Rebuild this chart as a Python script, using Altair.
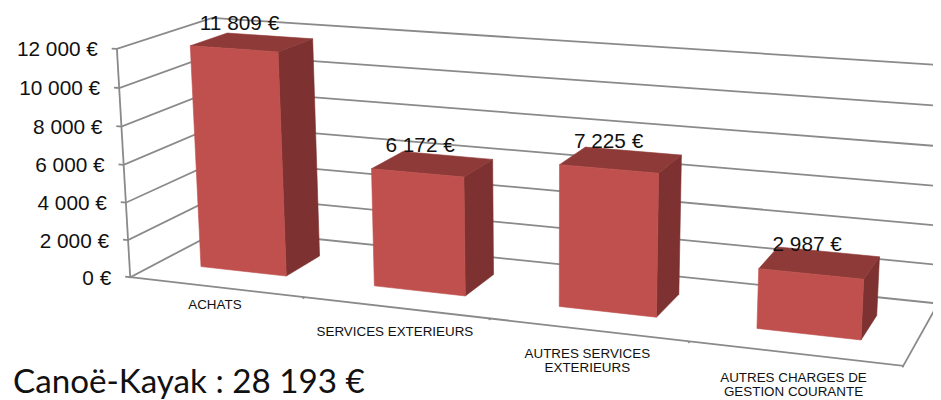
import numpy as np
import pandas as pd
import altair as alt

categories = [["ACHATS"], ["SERVICES EXTERIEURS"], ["AUTRES SERVICES", "EXTERIEURS"],
              ["AUTRES CHARGES DE", "GESTION COURANTE"]]
values = [11809, 6172, 7225, 2987]
value_labels = ["11 809 €", "6 172 €", "7 225 €", "2 987 €"]
axis_ticks = [0, 2000, 4000, 6000, 8000, 10000, 12000]
axis_labels = ["0 €", "2 000 €", "4 000 €", "6 000 €", "8 000 €", "10 000 €", "12 000 €"]
title = "Canoë-Kayak : 28 193 €"

FRONT, TOP, SIDE, GREY = "#C0504D", "#8E3A38", "#7D3130", "#8A8A8A"
VMAX = 12000

# Perspective camera of the 3-D box: (category position, depth, value share) -> page pixel
box = [((0, 0, 0), (130, 277)), ((0, 0, 1), (117, 49)), ((0, 1, 0), (222, 230)), ((0, 1, 1), (212, 18)),
       ((4, 0, 0), (903, 367)), ((4, 1, 0), (938, 302)), ((4, 1, 1), (951, 66)),
       ((0, 0, .5), (124, 164)), ((4, 1, .5), (945, 187))]
eqs = []
for (X, Y, Z), (px, py) in box:
    px, py = px / 1000, py / 1000
    eqs.append([X, Y, Z, 1, 0, 0, 0, 0, -px * X, -px * Y, -px * Z, -px])
    eqs.append([0, 0, 0, 0, X, Y, Z, 1, -py * X, -py * Y, -py * Z, -py])
P = np.linalg.svd(np.array(eqs, float))[2][-1].reshape(3, 4)


def proj(u, w, val):
    h = P @ np.array([u, w, val / VMAX, 1.0])
    return [float(h[0] / h[2] * 1000), float(h[1] / h[2] * 1000)]


# ---- polygons
features = []


def poly(pts, color):
    ring = [proj(*p) for p in pts]
    ring.append(ring[0])
    features.append({"type": "Feature", "properties": {"c": color},
                     "geometry": {"type": "Polygon", "coordinates": [ring]}})


GAP, W0, W1 = 0.25, 0.3, 0.7
for i, v in enumerate(values):
    a, b = i + GAP, i + 1 - GAP
    poly([(b, W0, 0), (b, W1, 0), (b, W1, v), (b, W0, v)], SIDE)
    poly([(a, W0, v), (b, W0, v), (b, W1, v), (a, W1, v)], TOP)
    poly([(a, W0, 0), (b, W0, 0), (b, W0, v), (a, W0, v)], FRONT)

# ---- grey frame lines
rows = []


def seg(pts):
    gid = seg.n
    seg.n += 1
    for k, p in enumerate(pts):
        x, y = proj(*p)
        rows.append({"g": gid, "k": k, "x": x, "y": y})


seg.n = 0
for t in axis_ticks:
    seg([(-0.03, 0, t), (0, 0, t), (0, 1, t), (4, 1, t)])
seg([(0, 0, 0), (0, 0, VMAX)])
seg([(0, 0, 0), (4, 0, 0), (4, 1, 0)])
for c in range(1, 5):
    seg([(c, 0, 0), (c, -0.022, 0)])
lines_df = pd.DataFrame(rows)

# ---- texts
big, small = [], []
for t, lab in zip(axis_ticks, axis_labels):
    x, y = proj(0, 0, t)
    big.append({"x": x - 19, "y": y + 1.5, "t": lab, "a": "right"})
for i, (v, lab) in enumerate(zip(values, value_labels)):
    c = proj(i + 0.5, 0.5, v)
    big.append({"x": c[0] - 12.5, "y": c[1] - 18, "t": lab, "a": "center"})
drops = [18, 24, 24, 24.5]
for i, lines in enumerate(categories):
    x, y = proj(i + 0.5, 0, 0)
    for j, s in enumerate(lines):
        small.append({"x": x - 1, "y": y + drops[i] + j * 14.5, "t": s})
big_r = pd.DataFrame([r for r in big if r["a"] == "right"])
big_c = pd.DataFrame([r for r in big if r["a"] == "center"])
small_df = pd.DataFrame(small)

xs = alt.Scale(domain=[8, 933], range=[0, 925], nice=False, zero=False)
ys = alt.Scale(domain=[8, 400], range=[0, 392], nice=False, zero=False)
X = alt.X("x:Q", scale=xs, axis=None)
Y = alt.Y("y:Q", scale=ys, axis=None)

frame = alt.Chart(lines_df).mark_line(color=GREY, strokeWidth=1.8, clip=True, strokeJoin="miter").encode(
    x=X, y=Y, detail="g:N", order="k:Q")

bars = alt.Chart(alt.InlineData(values=features, format=alt.JsonDataFormat(type="json"))).mark_geoshape(
    strokeWidth=0.6).encode(
    fill=alt.Fill("properties.c:N", scale=None),
    stroke=alt.Stroke("properties.c:N", scale=None),
).project(type="identity", scale=1, translate=[-8, -8])

font = "Liberation Sans"
t1 = alt.Chart(big_r).mark_text(font=font, fontSize=20.8, align="right", baseline="middle", color="#111111").encode(
    x=X, y=Y, text="t:N")
t2 = alt.Chart(big_c).mark_text(font=font, fontSize=20.8, align="center", baseline="middle", color="#111111").encode(
    x=X, y=Y, text="t:N")
t3 = alt.Chart(small_df).mark_text(font=font, fontSize=13.4, align="center", baseline="middle", color="#111111").encode(
    x=X, y=Y, text="t:N")
t4 = alt.Chart(pd.DataFrame({"x": [13], "y": [393], "t": [title]})).mark_text(
    font="Lato", fontSize=33.2, align="left", baseline="alphabetic", color="#111111").encode(x=X, y=Y, text="t:N")

chart = alt.layer(frame, bars, t1, t2, t3, t4).properties(
    width=925, height=392, padding=0, background="white",
    autosize=alt.AutoSizeParams(type="none"),
).configure_view(stroke=None)

chart.save("out.html", embed_options={"renderer": "svg", "actions": False})
